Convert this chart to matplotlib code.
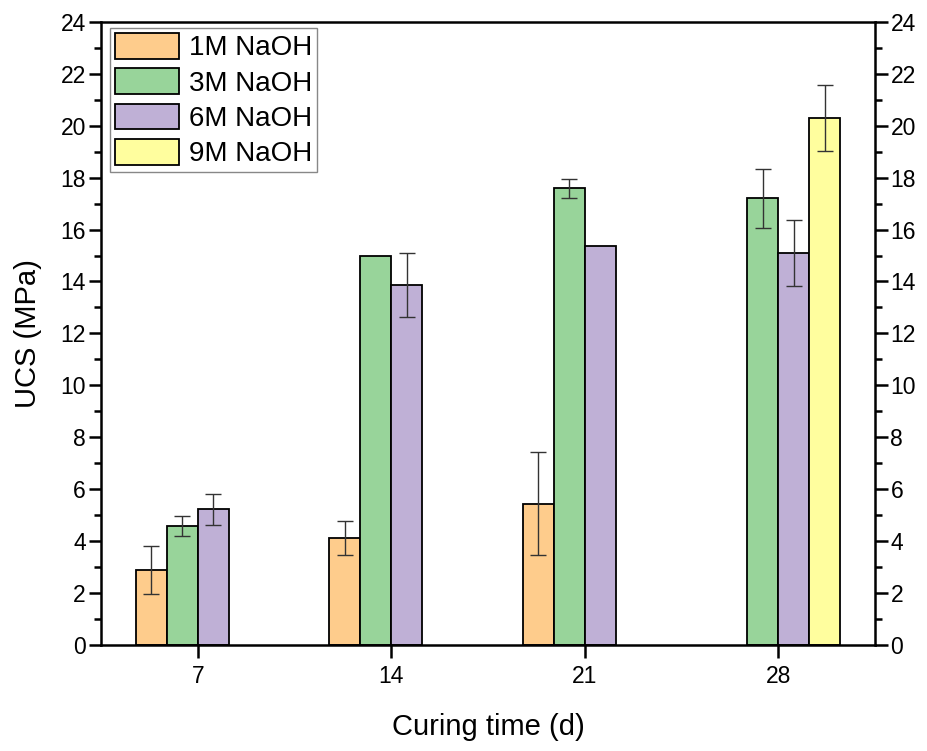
import numpy as np
import matplotlib
matplotlib.use("Agg")
import matplotlib.pyplot as plt
from matplotlib.ticker import MultipleLocator

plt.rcParams['font.family'] = ['Liberation Sans', 'DejaVu Sans']

# data
days = ['7', '14', '21', '28']
labels = ['1M NaOH', '3M NaOH', '6M NaOH', '9M NaOH']
ucs_1m = [2.9, 4.13, 5.45, np.nan]
ucs_3m = [4.6, 15.0, 17.59, 17.2]
ucs_6m = [5.23, 13.85, 15.37, 15.1]
ucs_9m = [np.nan, np.nan, np.nan, 20.3]
err_1m = [0.92, 0.65, 1.97, 0]
err_3m = [0.38, 0, 0.37, 1.15]
err_6m = [0.6, 1.23, 0, 1.28]
err_9m = [0, 0, 0, 1.27]

colors = ['#FECC8C', '#98D49A', '#BFB0D6', '#FFFE9E']

fig = plt.figure(figsize=(9.28, 7.51), dpi=100)
ax = fig.add_axes([0.109, 0.141, 0.834, 0.830])

x = np.arange(1, len(days) + 1)
w = 0.16
series = [ucs_1m, ucs_3m, ucs_6m, ucs_9m]
errs = [err_1m, err_3m, err_6m, err_9m]
for i, (vals, e) in enumerate(zip(series, errs)):
    vals = np.array(vals, dtype=float)
    e = np.array(e, dtype=float)
    pos = x + (i - 1.5) * w
    ok = ~np.isnan(vals)
    ax.bar(pos[ok], vals[ok], width=w, color=colors[i], edgecolor='black',
           linewidth=1.3, label=labels[i], zorder=2)
    has_err = ok & (e > 0)
    ax.errorbar(pos[has_err], vals[has_err], yerr=e[has_err], fmt='none',
                ecolor='#333333', elinewidth=1.0, capsize=5.5, capthick=1.0, zorder=3)

ax.set_xlim(0.5, 4.5)
ax.set_ylim(0, 24)
ax.set_xticks(x)
ax.set_xticklabels(days)
ax.yaxis.set_major_locator(MultipleLocator(2))
ax.yaxis.set_minor_locator(MultipleLocator(1))

for s in ax.spines.values():
    s.set_linewidth(1.8)

ax.tick_params(axis='y', which='major', direction='out', length=9, width=1.8,
               labelsize=16.5, left=True, right=True, labelleft=True, labelright=True, pad=2)
ax.tick_params(axis='y', which='minor', direction='out', length=5, width=1.8,
               left=True, right=True)
ax.tick_params(axis='x', which='major', direction='out', length=9, width=1.8,
               labelsize=16.5, top=False, pad=5)

ax.set_xlabel('Curing time (d)', fontsize=21, labelpad=18)
ax.set_ylabel('UCS (MPa)', fontsize=21, labelpad=13)

leg = ax.legend(loc='upper left', bbox_to_anchor=(0.0116, 0.99), borderaxespad=0,
                fontsize=20, fancybox=False, framealpha=1, edgecolor='#888888',
                handlelength=2.3, handleheight=1.05, labelspacing=0.25,
                handletextpad=0.36, borderpad=0.18)
leg.get_frame().set_linewidth(1.0)

fig.savefig('out.png', dpi=100)
